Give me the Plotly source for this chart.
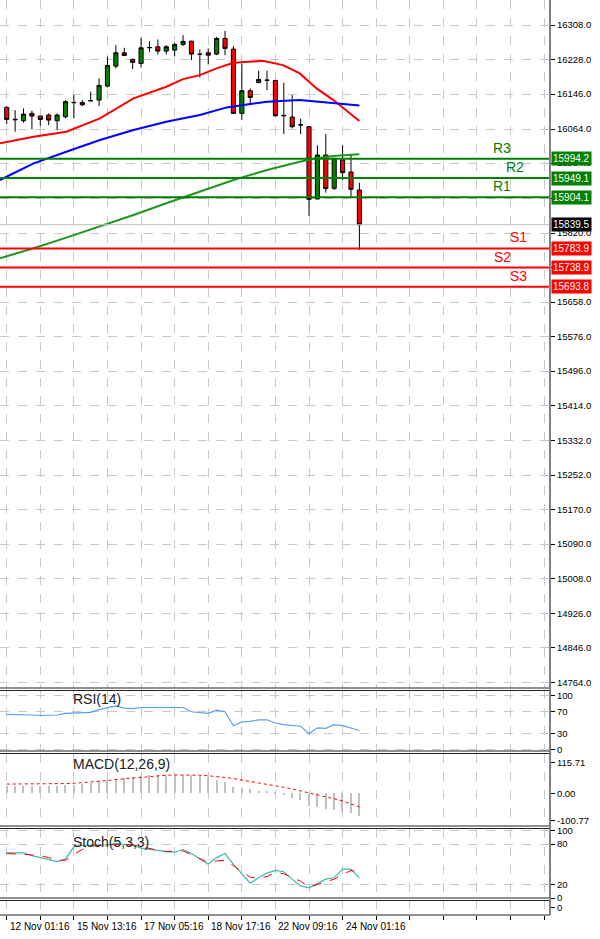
import plotly.graph_objects as go

# ---------------- data ----------------
idx = list(range(43))
opens  = [16114.9,16087.0,16083.6,16100.8,16094.6,16096.9,16083.6,16093.0,16125.8,16126.6,16130.0,16132.1,16164.9,16211.8,16243.1,16227.5,16218.1,16254.8,16257.2,16247.0,16249.4,16262.6,16270.4,16240.0,16243.1,16240.0,16276.7,16251.7,16100.8,16154.0,16173.5,16179.0,16178.2,16096.1,16092.2,16074.3,16069.6,15899.9,16003.1,15924.9,15991.4,15963.2,15921.0]
highs  = [16118.0,16108.6,16112.5,16107.1,16094.6,16100.8,16100.8,16132.1,16143.8,16132.1,16151.6,16182.9,16233.7,16261.1,16254.8,16229.8,16278.3,16270.4,16274.4,16261.1,16266.5,16284.5,16271.2,16250.9,16253.3,16280.6,16294.7,16258.7,16218.1,16159.4,16200.9,16200.9,16178.2,16172.7,16143.8,16088.3,16071.1,16025.8,16052.4,15995.3,16025.8,16004.7,15938.2]
lows   = [16075.8,16057.8,16078.9,16063.3,16071.1,16073.5,16061.7,16089.1,16089.1,16118.0,16128.2,16118.0,16161.8,16206.4,16235.3,16204.8,16208.7,16245.4,16239.2,16239.2,16235.3,16258.7,16225.9,16185.2,16215.7,16237.6,16237.6,16099.3,16085.2,16124.3,16171.2,16155.5,16093.0,16052.4,16065.6,16052.4,15860.1,15899.1,15914.8,15921.0,15944.5,15905.4,15780.3]
closes = [16086.7,16086.0,16099.2,16094.6,16086.7,16085.2,16096.9,16128.2,16126.5,16121.1,16131.0,16166.5,16213.4,16243.1,16236.8,16220.4,16254.8,16255.5,16247.0,16257.2,16262.6,16269.7,16240.0,16239.5,16237.6,16276.7,16253.3,16100.8,16154.0,16138.3,16180.5,16178.5,16095.3,16095.5,16069.6,16073.8,15899.1,16003.1,15924.2,15995.3,15961.7,15922.6,15839.5]

ma_red_x = [-0.8,3.2,7.1,11.1,15.1,19,21,23,25,27,30.5,32.9,34.9,36.9,38.9,40.9,42]
ma_red_y = [16030.5,16046.1,16057.8,16089.1,16136.0,16163.4,16181.3,16190.7,16206.4,16219.6,16224.3,16214.2,16194.6,16159.4,16132.1,16100.8,16082.8]
ma_blue_x = [-0.8,3.2,7.1,11.1,15.1,19,23,26.2,29,31,34.9,38.9,42]
ma_blue_y = [15944.5,15983.6,16010.9,16038.3,16061.7,16081.3,16096.9,16114.9,16122.7,16128.2,16132.1,16124.3,16119.6]
ma_green_x = [-0.8,3.2,7.1,11.1,15.1,19,23,27,31,34.9,36.9,38.9,42]
ma_green_y = [15760.8,15784.2,15809.2,15835.1,15862.4,15889.8,15917.1,15944.5,15968.0,15987.5,15995.3,16000.8,16004.7]

pivot_names  = ["R3","R2","R1","S1","S2","S3"]
pivot_values = [15994.2,15949.1,15904.1,15783.9,15738.9,15693.8]
pivot_colors = ["#008000","#008000","#008000","#ff0000","#ff0000","#ff0000"]
pivot_text_x = [59,60.5,59,61,59,61]

price_ticks = [16308,16228,16146,16064,15984,15902,15820,15740,15658,15576,15496,15414,15332,15252,15170,15090,15008,14926,14846,14764]
price_ticks_hidden = [15902,15740]

rsi = [65,65,65,64,63,63,64,67,68,68,69,74,78,81,77,76,78,78,78,77,77,78,70,69,67,73,70,44,51,52,55,55,49,46,44,43,29,40,39,46,44,40,35]
macd_hist = [27,27,27,27,27,28,29,30,32,35,40,45,50,55,58,62,66,68,70,70,70,70,68,66,60,50,42,25,20,15,10,8,3,-5,-15,-25,-48,-50,-58,-62,-70,-72,-82]
macd_signal = [35,35,35,36,36,36,37,37,38,40,42,45,48,52,55,58,61,64,66,68,69,69,69,68,66,63,60,56,50,45,40,35,30,23,17,10,3,-5,-12,-20,-28,-38,-50]
stoch_k = [67,67,67,63,60,56,54,58,76,78,78,78,79,81,79,78,74,72,70,69,68,72,66,58,50,60,66,50,36,22,30,37,41,39,28,18,15,22,28,30,43,43,30]
stoch_d = [66,66,65,64,63,60,56,56,65,72,77,78,79,80,80,79,76,74,71,69,70,70,64,58,53,55,56,48,40,31,29,32,38,36,30,25,16,20,24,28,35,41,38]

date_tick_idx = [0,8,16,24,32,40]
date_labels = ["12 Nov 01:16","15 Nov 13:16","17 Nov 05:16","18 Nov 17:16","22 Nov 09:16","24 Nov 01:16"]

# ---------------- figure ----------------
H = 915.0
FONT = "Liberation Sans, Arial"
def dom(top, bot):
    return [1 - bot / H, 1 - top / H]

fig = go.Figure()
fig.add_trace(go.Candlestick(x=idx, open=opens, high=highs, low=lows, close=closes,
    increasing=dict(fillcolor="#008000", line=dict(color="black", width=1)),
    decreasing=dict(fillcolor="#ff0000", line=dict(color="black", width=1)),
    whiskerwidth=0, xaxis="x", yaxis="y", showlegend=False))
fig.add_trace(go.Scatter(x=ma_red_x, y=ma_red_y, mode="lines", line=dict(color="#ff0000", width=2), xaxis="x", yaxis="y"))
fig.add_trace(go.Scatter(x=ma_blue_x, y=ma_blue_y, mode="lines", line=dict(color="#0000ff", width=2), xaxis="x", yaxis="y"))
fig.add_trace(go.Scatter(x=ma_green_x, y=ma_green_y, mode="lines", line=dict(color="#1f961f", width=2), xaxis="x", yaxis="y"))

fig.add_trace(go.Scatter(x=idx, y=rsi, mode="lines", line=dict(color="#5aa0f0", width=1.2), xaxis="x2", yaxis="y2"))
fig.add_trace(go.Bar(x=idx, y=macd_hist, marker=dict(color="#c0c0c0", line=dict(width=0)), width=0.15, xaxis="x3", yaxis="y3"))
fig.add_trace(go.Scatter(x=idx, y=macd_signal, mode="lines", line=dict(color="#ff0000", width=1, dash="dot"), xaxis="x3", yaxis="y3"))
fig.add_trace(go.Scatter(x=idx, y=stoch_k, mode="lines", line=dict(color="#40b8b0", width=1.2), xaxis="x4", yaxis="y4"))
fig.add_trace(go.Scatter(x=idx, y=stoch_d, mode="lines", line=dict(color="#ff0000", width=1, dash="dash"), xaxis="x4", yaxis="y4"))

xr = [-0.8, 64.7]
grid = dict(showgrid=True, gridcolor="#c8c8c8", griddash="dash", gridwidth=1)
tickfont = dict(family=FONT, size=9.5, color="black")
xgrid_vals = list(range(0, 65, 4))
xcommon = dict(range=xr, tickvals=xgrid_vals, showticklabels=False, zeroline=False,
               fixedrange=True, automargin=False, **grid)
ycommon = dict(side="right", tickfont=tickfont, ticks="outside", ticklen=4, tickcolor="black",
               zeroline=False, automargin=False, fixedrange=True)

layout = dict(
    width=600, height=939, margin=dict(l=0, r=50, t=0, b=24, autoexpand=False),
    plot_bgcolor="white", paper_bgcolor="white", showlegend=False, bargap=0,
    xaxis=dict(domain=[0, 1], anchor="y", rangeslider=dict(visible=False), **xcommon),
    xaxis2=dict(anchor="y2", **xcommon),
    xaxis3=dict(anchor="y3", **xcommon),
    xaxis4=dict(anchor="y4", **xcommon),
    xaxis5=dict(anchor="y5", ticks="outside", ticklen=4, tickcolor="black", **xcommon),
    yaxis=dict(domain=dom(0, 688), range=[14752, 16367], tickvals=price_ticks,
               ticktext=["" if v in price_ticks_hidden else f"{v:.1f}" for v in price_ticks],
               **ycommon, **grid),
    yaxis2=dict(domain=dom(690, 751), range=[-3.3, 110.7], tickvals=[100, 70, 30, 0],
                **ycommon, showgrid=True, gridcolor="#c8c8c8", griddash="dash"),
    yaxis3=dict(domain=dom(754, 826), range=[-121, 147], tickvals=[115.71, 0, -100.77],
                ticktext=["115.71", "0.00", "-100.77"], **ycommon, showgrid=False),
    yaxis4=dict(domain=dom(829, 898), range=[0, 102.5], tickvals=[100, 80, 20, 0],
                **ycommon, showgrid=True, gridcolor="#c8c8c8", griddash="dash"),
    yaxis5=dict(domain=dom(900, 915), range=[-1, 1], tickvals=[0], **ycommon, showgrid=False),
)
fig.update_layout(**layout)

shapes = []
for v, c in zip(pivot_values, pivot_colors):
    shapes.append(dict(type="line", xref="paper", x0=0, x1=1, yref="y", y0=v, y1=v, line=dict(color=c, width=2)))
shapes.append(dict(type="line", xref="paper", x0=0, x1=1, yref="y", y0=closes[-1], y1=closes[-1],
                   line=dict(color="#bdbdbd", width=1)))
for px in [688, 690.5, 751, 753.5, 826, 828.5, 898, 900.5, 915]:
    yp = 1 - px / H
    shapes.append(dict(type="line", xref="paper", x0=0, x1=1, yref="paper", y0=yp, y1=yp,
                       line=dict(color="#202020", width=1)))
shapes.append(dict(type="line", xref="paper", x0=1, x1=1, yref="paper", y0=0, y1=1,
                   line=dict(color="#808080", width=2)))
fig.update_layout(shapes=shapes)

ann = []
for n, v, c, tx in zip(pivot_names, pivot_values, pivot_colors, pivot_text_x):
    ann.append(dict(x=tx, y=v, xref="x", yref="y", text=n, showarrow=False, yanchor="bottom", yshift=1,
                    font=dict(family=FONT, size=14, color=c)))
    ann.append(dict(x=1, y=v, xref="paper", yref="y", text=f"{v:.1f}", showarrow=False, xanchor="left",
                    xshift=1, bgcolor=c, borderpad=1, font=dict(family=FONT, size=10, color="white")))
ann.append(dict(x=1, y=closes[-1], xref="paper", yref="y", text=f"{closes[-1]:.1f}", showarrow=False,
                xanchor="left", xshift=1, bgcolor="black", borderpad=1,
                font=dict(family=FONT, size=10, color="white")))
for txt, px in [("RSI(14)", 699), ("MACD(12,26,9)", 764), ("Stoch(5,3,3)", 842)]:
    ann.append(dict(x=71 / 550, y=1 - px / H, xref="paper", yref="paper", text=txt, showarrow=False,
                    xanchor="left", yanchor="middle", font=dict(family=FONT, size=14, color="#202020")))
for i, lab in zip(date_tick_idx, date_labels):
    ann.append(dict(x=i, y=0, xref="x5", yref="paper", text=lab, showarrow=False, xanchor="left",
                    yanchor="top", xshift=1, yshift=-4, font=dict(family=FONT, size=10, color="black")))
fig.update_layout(annotations=ann)

fig.write_html("out.html", config={"displayModeBar": False},
               post_script="document.body.style.margin='0';document.body.style.overflow='hidden';")
